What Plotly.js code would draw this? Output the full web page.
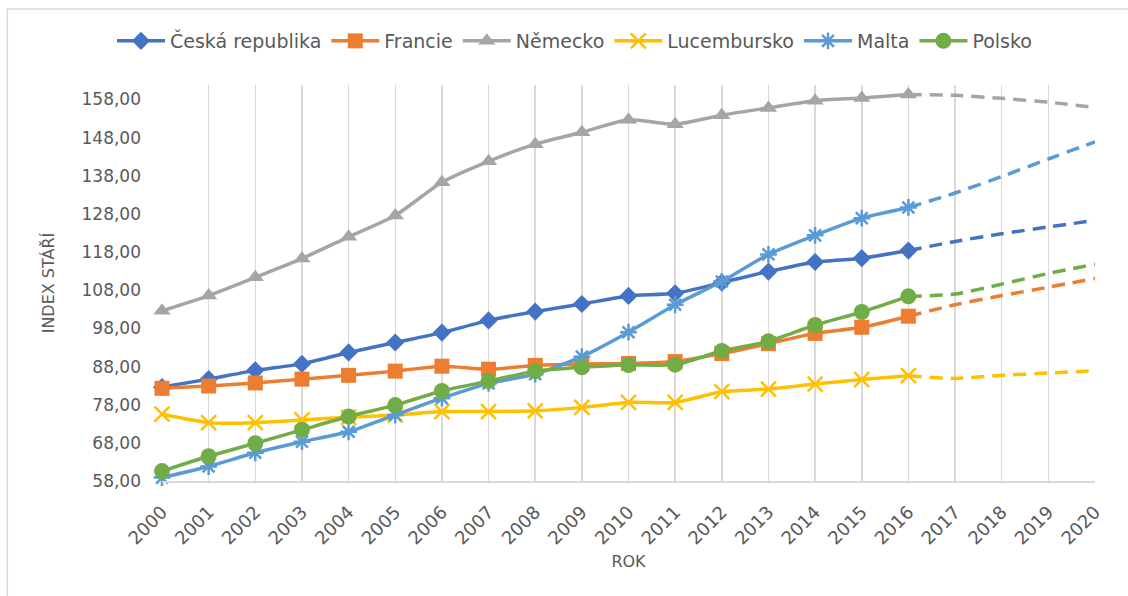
<!DOCTYPE html>
<html>
<head>
<meta charset="utf-8">
<script src="https://cdn.plot.ly/plotly-3.0.1.min.js"></script>
<style>
  html, body { margin: 0; padding: 0; background: #ffffff; }
  #chart { width: 1128px; height: 596px; }
</style>
</head>
<body>
<div id="chart"></div>
<script>
// Roky – skutečnost 2000–2016, projekce 2016–2020
const years = [2000, 2001, 2002, 2003, 2004, 2005, 2006, 2007, 2008, 2009, 2010, 2011, 2012, 2013, 2014, 2015, 2016];
const projYears = [2016, 2017, 2018, 2019, 2020];

// Index stáří podle zemí
const ceskaRepublika = [82.6, 84.7, 87.0, 88.7, 91.7, 94.3, 96.9, 100.1, 102.4, 104.4, 106.5, 107.2, 110.0, 112.9, 115.4, 116.4, 118.4];
const ceskaRepublikaProj = [118.4, 120.8, 122.8, 124.6, 126.3];

const francie = [82.3, 82.9, 83.7, 84.7, 85.7, 86.8, 88.1, 87.3, 88.3, 88.7, 88.8, 89.3, 91.4, 94.0, 96.7, 98.3, 101.2];
const franciePro = [101.2, 104.2, 106.6, 108.8, 111.1];

const nemecko = [102.6, 106.6, 111.4, 116.3, 122.0, 127.6, 136.3, 141.8, 146.3, 149.4, 152.7, 151.5, 153.9, 155.8, 157.7, 158.4, 159.3];
const nemeckoProj = [159.3, 159.1, 158.3, 157.3, 155.9];

const lucembursko = [75.5, 73.3, 73.3, 74.0, 74.7, 75.3, 76.2, 76.2, 76.4, 77.3, 78.6, 78.6, 81.4, 82.1, 83.4, 84.6, 85.6];
const lucemburskoProj = [85.6, 84.9, 85.7, 86.3, 86.9];

const malta = [58.9, 61.8, 65.4, 68.3, 70.9, 75.3, 79.7, 83.6, 86.0, 90.6, 97.0, 104.2, 110.3, 117.4, 122.4, 126.9, 129.7];
const maltaProj = [129.7, 133.5, 137.8, 142.4, 146.9];

const polsko = [60.6, 64.5, 67.9, 71.4, 74.9, 77.9, 81.6, 84.2, 86.8, 87.8, 88.4, 88.5, 92.1, 94.6, 98.9, 102.3, 106.4];
const polskoProj = [106.4, 107.0, 109.6, 112.4, 114.8];

const series = [
  { name: 'Česká republika', y: ceskaRepublika, proj: ceskaRepublikaProj, color: '#4472C4', symbol: 'diamond', size: 14, open: false },
  { name: 'Francie', y: francie, proj: franciePro, color: '#ED7D31', symbol: 'square', size: 15, open: false },
  { name: 'Německo', y: nemecko, proj: nemeckoProj, color: '#A5A5A5', symbol: 'triangle-up', size: 15, open: false },
  { name: 'Lucembursko', y: lucembursko, proj: lucemburskoProj, color: '#FFC000', symbol: 'x-thin-open', size: 15, open: true },
  { name: 'Malta', y: malta, proj: maltaProj, color: '#5B9BD5', symbol: 'asterisk-open', size: 14, open: true },
  { name: 'Polsko', y: polsko, proj: polskoProj, color: '#70AD47', symbol: 'circle', size: 16, open: false }
];

const textColor = '#595959';
const gridColor = '#d9d9d9';
const fontFamily = 'DejaVu Sans, Open Sans, sans-serif';

const traces = [];
series.forEach(s => {
  traces.push({
    type: 'scatter', mode: 'lines+markers', name: s.name,
    x: years, y: s.y, cliponaxis: false,
    line: { color: s.color, width: 3.5, shape: 'spline', smoothing: 0.6 },
    marker: {
      symbol: s.symbol, size: s.size, color: s.color,
      line: { color: s.color, width: s.open ? 2.5 : 0 }
    }
  });
});
series.forEach(s => {
  traces.push({
    type: 'scatter', mode: 'lines', name: s.name + ' (projekce)', showlegend: false,
    x: projYears, y: s.proj, cliponaxis: false,
    line: { color: s.color, width: 3.5, dash: '13px,8px', shape: 'spline', smoothing: 0.6 }
  });
});

const layout = {
  width: 1128, height: 596,
  margin: { l: 162, r: 33, t: 85, b: 114.5, pad: 0, autoexpand: false },
  paper_bgcolor: '#ffffff', plot_bgcolor: '#ffffff',
  separators: ', ',
  font: { family: fontFamily, color: textColor, size: 17 },
  showlegend: true,
  legend: {
    orientation: 'h', xref: 'container', yref: 'container',
    x: 0.5093, xanchor: 'center', y: 0.9312, yanchor: 'middle',
    font: { family: fontFamily, size: 19, color: textColor },
    itemwidth: 48, tracegroupgap: 0, bgcolor: 'rgba(0,0,0,0)'
  },
  xaxis: {
    range: [2000, 2020], tickmode: 'linear', tick0: 2000, dtick: 1,
    tickangle: -45, ticks: '', ticklabelstandoff: 12,
    showgrid: true, gridcolor: gridColor, gridwidth: 1.5,
    showline: true, linecolor: gridColor, linewidth: 1.5, zeroline: false,
    tickfont: { family: fontFamily, size: 18, color: textColor },
    title: { text: 'ROK', font: { family: fontFamily, size: 16, color: textColor }, standoff: 8 },
    automargin: false
  },
  yaxis: {
    range: [58, 161.8], tickmode: 'linear', tick0: 58, dtick: 10, tickformat: '.2f',
    ticks: '', ticklabelstandoff: 20, showgrid: false, showline: false, zeroline: false,
    tickfont: { family: fontFamily, size: 17, color: textColor },
    title: { text: 'INDEX STÁŘÍ', font: { family: fontFamily, size: 16, color: textColor }, standoff: 22 },
    automargin: false
  },
  shapes: [{
    type: 'rect', xref: 'paper', yref: 'paper',
    x0: -0.1658, x1: 1.043, y0: -0.299, y1: 1.1917,
    line: { color: '#d9d9d9', width: 1.5 }, fillcolor: 'rgba(0,0,0,0)', layer: 'below'
  }]
};

Plotly.newPlot('chart', traces, layout, { staticPlot: true, displayModeBar: false });
</script>
</body>
</html>
